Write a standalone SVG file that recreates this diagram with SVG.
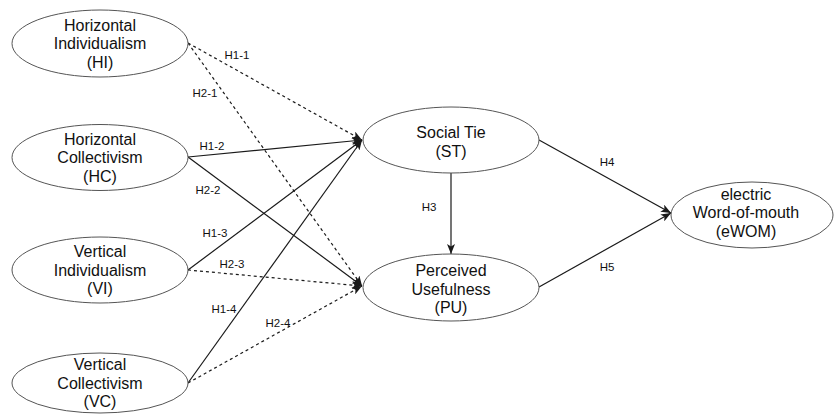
<svg xmlns="http://www.w3.org/2000/svg" width="835" height="414" viewBox="0 0 835 414">
  <style>
    .node ellipse { fill: #ffffff; stroke: #555555; stroke-width: 1; }
    .node text { font-family: "Liberation Sans", Arial, sans-serif; font-size: 16px; fill: #111111; text-anchor: middle; }
    .edge { fill: none; stroke: #1a1a1a; stroke-width: 1.2; marker-end: url(#arrow); }
    .dashed { stroke-dasharray: 3 3; }
    .lbl { font-family: "Liberation Sans", Arial, sans-serif; font-size: 11.5px; fill: #111111; text-anchor: middle; }
  </style>
  <defs>
    <marker id="arrow" viewBox="0 0 10 8" refX="10" refY="4" markerWidth="10" markerHeight="8" markerUnits="userSpaceOnUse" orient="auto">
      <path d="M0,0 L10,4 L0,8 L2.5,4 z" fill="#1a1a1a"/>
    </marker>
  </defs>
  <rect width="835" height="414" fill="#ffffff"/>

  <!-- connectors -->
  <g id="connectors">
    <line class="edge dashed" x1="188" y1="43" x2="362" y2="140"/>
    <line class="edge dashed" x1="188" y1="43" x2="362" y2="286"/>
    <line class="edge" x1="188" y1="157" x2="362" y2="140"/>
    <line class="edge" x1="188" y1="157" x2="362" y2="286"/>
    <line class="edge" x1="188" y1="270" x2="362" y2="140"/>
    <line class="edge dashed" x1="188" y1="270" x2="362" y2="286"/>
    <line class="edge" x1="188" y1="383" x2="362" y2="140"/>
    <line class="edge dashed" x1="188" y1="383" x2="362" y2="286"/>
    <line class="edge" x1="451" y1="173" x2="451" y2="254"/>
    <line class="edge" x1="539" y1="140" x2="671" y2="213"/>
    <line class="edge" x1="539" y1="287" x2="671" y2="213"/>

    <text class="lbl" x="237" y="59">H1-1</text>
    <text class="lbl" x="205" y="97">H2-1</text>
    <text class="lbl" x="212" y="150">H1-2</text>
    <text class="lbl" x="208" y="194">H2-2</text>
    <text class="lbl" x="215" y="237">H1-3</text>
    <text class="lbl" x="232" y="268">H2-3</text>
    <text class="lbl" x="224" y="313">H1-4</text>
    <text class="lbl" x="278" y="327">H2-4</text>
    <text class="lbl" x="429" y="211">H3</text>
    <text class="lbl" x="607" y="166">H4</text>
    <text class="lbl" x="607" y="271">H5</text>
  </g>

  <!-- nodes -->
  <g id="HI" class="node">
    <ellipse cx="100" cy="43.5" rx="88" ry="33.5"/>
    <text x="100" y="30.5">Horizontal</text>
    <text x="100" y="49">Individualism</text>
    <text x="100" y="67.5">(HI)</text>
  </g>
  <g id="HC" class="node">
    <ellipse cx="100" cy="157.5" rx="88" ry="33"/>
    <text x="100" y="144.5">Horizontal</text>
    <text x="100" y="163">Collectivism</text>
    <text x="100" y="181.5">(HC)</text>
  </g>
  <g id="VI" class="node">
    <ellipse cx="100" cy="270" rx="88" ry="33"/>
    <text x="100" y="257">Vertical</text>
    <text x="100" y="275.5">Individualism</text>
    <text x="100" y="294">(VI)</text>
  </g>
  <g id="VC" class="node">
    <ellipse cx="100" cy="383" rx="88" ry="30"/>
    <text x="100" y="370">Vertical</text>
    <text x="100" y="388.5">Collectivism</text>
    <text x="100" y="407">(VC)</text>
  </g>
  <g id="ST" class="node">
    <ellipse cx="451" cy="140" rx="88" ry="33"/>
    <text x="451" y="137.5">Social Tie</text>
    <text x="451" y="156.5">(ST)</text>
  </g>
  <g id="PU" class="node">
    <ellipse cx="451" cy="287.5" rx="88" ry="33.5"/>
    <text x="451" y="276">Perceived</text>
    <text x="451" y="294.5">Usefulness</text>
    <text x="451" y="313">(PU)</text>
  </g>
  <g id="eWOM" class="node">
    <ellipse cx="752" cy="215" rx="81" ry="33"/>
    <text x="746" y="199.5">electric</text>
    <text x="746" y="218">Word-of-mouth</text>
    <text x="746" y="236.5">(eWOM)</text>
  </g>
</svg>
